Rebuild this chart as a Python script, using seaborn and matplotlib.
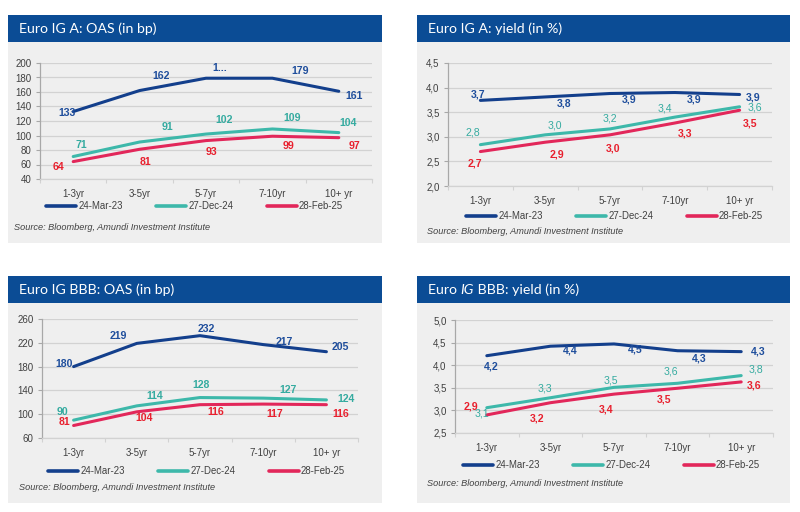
import numpy as np
import pandas as pd
import matplotlib
matplotlib.use("Agg")
import matplotlib.pyplot as plt
import matplotlib.text as mtext
import seaborn as sns
from matplotlib.patches import Rectangle
from matplotlib.ticker import FuncFormatter

# ---------------- data ----------------
buckets = ["1-3yr", "3-5yr", "5-7yr", "7-10yr", "10+ yr"]
dates = ["24-Mar-23", "27-Dec-24", "28-Feb-25"]

a_oas_mar23 = [133, 162, 179, 179, 161]
a_oas_dec24 = [71, 91, 102, 109, 104]
a_oas_feb25 = [64, 81, 93, 99, 97]
a_oas_mar23_labels = ["133", "162", "1...", "179", "161"]

a_yld_mar23 = [3.74, 3.81, 3.88, 3.90, 3.86]
a_yld_dec24 = [2.84, 3.04, 3.16, 3.40, 3.61]
a_yld_feb25 = [2.70, 2.89, 3.04, 3.28, 3.54]

bbb_oas_mar23 = [180, 219, 232, 217, 205]
bbb_oas_dec24 = [90, 114, 128, 127, 124]
bbb_oas_feb25 = [81, 104, 116, 117, 116]

bbb_yld_mar23 = [4.21, 4.42, 4.47, 4.32, 4.30]
bbb_yld_dec24 = [3.06, 3.28, 3.51, 3.60, 3.77]
bbb_yld_feb25 = [2.90, 3.17, 3.36, 3.49, 3.63]

source = "Source: Bloomberg, Amundi Investment Institute"

# ---------------- style ----------------
sns.set_theme(style="white")
plt.rcParams["font.family"] = ["Liberation Sans", "DejaVu Sans"]

W, H = 800, 512
line_colors = ["#133F8C", "#3DB8AA", "#E2275A"]
label_colors = ["#1F4E9C", "#35ABA0", "#E8202E"]
header_col = "#0B4C95"
bg_col = "#EFEFEF"
tick_col = "#404040"
title_family = ["Lato", "DejaVu Sans"]
title_size = 10.2


def fx(x):
    return x / W


def fy(y):
    return 1 - y / H


def fmt_int(v, pos=None):
    return f"{v:.0f}"


def fmt_comma(v, pos=None):
    return f"{v:.1f}".replace(".", ",")


panels = [
    dict(title=["Euro IG A: OAS (in bp)"], box=(8, 15, 382, 243), axes=(40, 63, 372, 179),
         series=[a_oas_mar23, a_oas_dec24, a_oas_feb25],
         labels=[a_oas_mar23_labels, None, None], fmt=fmt_int,
         ylim=(40, 200), yticks=np.arange(40, 201, 20),
         leg=(46, 206), src=(14, 227),
         teal_bold=True,
         offs=[[(-6, 1), (21, -15), (14, -10), (28, -7), (15, 5)],
               [(8, -12), (28, -15), (18, -14), (20, -11), (9, -10)],
               [(-15, 5), (6, 13), (5, 11), (16, 10), (16, 8)]]),
    dict(title=["Euro IG A: yield (in %)"], box=(417, 15, 790, 243), axes=(448, 63, 772, 186),
         series=[a_yld_mar23, a_yld_dec24, a_yld_feb25],
         labels=[None, None, None], fmt=fmt_comma,
         ylim=(2.0, 4.5), yticks=np.arange(2.0, 4.51, 0.5),
         leg=(466, 216), src=(427, 231),
         teal_bold=False,
         offs=[[(-2, -6), (19, 7), (19, 6), (19, 6.5), (14, 3)],
               [(-8, -12.5), (10, -9), (0, -10.5), (-10, -9), (15, 1)],
               [(-5, 11.5), (12, 12), (3, 14), (10, 10), (10, 13)]]),
    dict(title=["Euro IG BBB: OAS (in bp)"], box=(8, 276, 382, 503), axes=(42, 319, 358, 438),
         series=[bbb_oas_mar23, bbb_oas_dec24, bbb_oas_feb25],
         labels=[None, None, None], fmt=fmt_int,
         ylim=(60, 260), yticks=np.arange(60, 261, 40),
         leg=(48, 471), src=(19, 488),
         teal_bold=True,
         offs=[[(-9, -3), (-18, -7.5), (6, -6.5), (21, -3), (14, -4.5)],
               [(-11, -8), (17.5, -10), (1, -12.5), (24.5, -8), (20, -1)],
               [(-9, -3.5), (7.5, 6), (16, 7.5), (12, 10), (14, 9.5)]]),
    dict(title=["Euro ", "IG", " BBB: yield (in %)"], box=(417, 276, 790, 503), axes=(455, 320, 773, 433),
         series=[bbb_yld_mar23, bbb_yld_dec24, bbb_yld_feb25],
         labels=[None, None, None], fmt=fmt_comma,
         ylim=(2.5, 5.0), yticks=np.arange(2.5, 5.01, 0.5),
         leg=(463, 465), src=(427, 483),
         teal_bold=False,
         offs=[[(4, 11), (20, 4), (21, 6), (22, 8), (17, 0)],
               [(-5, 5.5), (-6, -9), (-3, -7), (-7, -12), (15, -6)],
               [(-16, -8.5), (-13, 16), (-8, 15), (-14, 11), (13, 4)]]),
]

fig = plt.figure(figsize=(W / 100, H / 100), dpi=100)
fig.patch.set_facecolor("white")

for p in panels:
    x0, y0, x1, y1 = p["box"]
    hy = y0 + 27
    # header bar
    fig.add_artist(Rectangle((fx(x0), fy(hy)), (x1 - x0) / W, (hy - y0) / H,
                             transform=fig.transFigure, facecolor=header_col,
                             edgecolor="none", zorder=-2))
    # gray body
    fig.add_artist(Rectangle((fx(x0), fy(y1)), (x1 - x0) / W, (y1 - hy) / H,
                             transform=fig.transFigure, facecolor=bg_col,
                             edgecolor="none", zorder=-2))
    # title (with optional italic middle part)
    tparts = p["title"]
    prev = fig.text(fx(x0 + 11), fy(y0 + 13.5), tparts[0], color="white",
                    fontsize=title_size, family=title_family, ha="left", va="center")
    for k, part in enumerate(tparts[1:]):
        style = "italic" if k == 0 else "normal"
        prev = fig.add_artist(mtext.Annotation(
            part, xy=(1, 0), xycoords=prev, ha="left", va="bottom",
            color="white", fontsize=title_size, style=style, family=title_family))

    # axes
    ax0, ay0, ax1, ay1 = p["axes"]
    ax = fig.add_axes([fx(ax0), fy(ay1), (ax1 - ax0) / W, (ay1 - ay0) / H])
    ax.set_facecolor("none")

    df = pd.DataFrame({
        "pos": np.tile(np.arange(len(buckets)), len(dates)),
        "value": np.concatenate([np.asarray(s, float) for s in p["series"]]),
        "date": np.repeat(dates, len(buckets)),
    })
    sns.lineplot(data=df, x="pos", y="value", hue="date", hue_order=dates,
                 palette=line_colors, sort=False, linewidth=2.2, ax=ax,
                 legend=True)
    handles, labs = ax.get_legend_handles_labels()
    ax.get_legend().remove()
    for h in handles:
        h.set_linewidth(2.6)

    ax.set_xlim(-0.5, len(buckets) - 0.5)
    ax.set_ylim(*p["ylim"])
    ax.set_yticks(p["yticks"])
    ax.yaxis.set_major_formatter(FuncFormatter(p["fmt"]))
    ax.set_xticks(np.arange(len(buckets)))
    ax.set_xticklabels(buckets)
    ax.set_xticks(np.arange(len(buckets) + 1) - 0.5, minor=True)
    ax.set_xlabel("")
    ax.set_ylabel("")
    ax.grid(axis="y", color="#D2D2D2", linewidth=0.9)
    ax.grid(axis="x", visible=False)
    ax.set_axisbelow(True)
    for s in ["top", "right"]:
        ax.spines[s].set_visible(False)
    ax.spines["left"].set_color("#A8A8A8")
    ax.spines["bottom"].set_color("#D2D2D2")
    ax.spines["left"].set_linewidth(0.9)
    ax.spines["bottom"].set_linewidth(0.9)
    ax.tick_params(axis="y", which="major", length=3, width=0.8, color="#A8A8A8",
                   labelsize=7.0, labelcolor=tick_col, pad=3, left=True)
    ax.tick_params(axis="x", which="major", length=0, labelsize=7.0,
                   labelcolor=tick_col, pad=7)
    ax.tick_params(axis="x", which="minor", length=3, width=0.8, color="#D2D2D2",
                   bottom=True)

    # data labels
    for si, s in enumerate(p["series"]):
        labs_s = p["labels"][si]
        weight = "bold" if (si != 1 or p["teal_bold"]) else "normal"
        for i, v in enumerate(s):
            txt = labs_s[i] if labs_s is not None else p["fmt"](v)
            dx, dy = p["offs"][si][i]
            ax.annotate(txt, xy=(i, v), xytext=(dx, -dy), textcoords="offset pixels",
                        ha="center", va="center", fontsize=7.6, fontweight=weight,
                        color=label_colors[si], annotation_clip=False)

    # legend
    lx, ly = p["leg"]
    ax.legend(handles, labs, loc="center left", bbox_to_anchor=(fx(lx), fy(ly)),
              bbox_transform=fig.transFigure, ncol=3, frameon=False,
              handlelength=3.1, handletextpad=0.25, columnspacing=3.5,
              borderpad=0, borderaxespad=0, fontsize=6.9,
              labelcolor=tick_col)

    # source
    sx, sy = p["src"]
    fig.text(fx(sx), fy(sy), source, fontsize=6.6, style="italic",
             color="#404040", ha="left", va="center")

fig.savefig("out.png", dpi=100, facecolor="white")
